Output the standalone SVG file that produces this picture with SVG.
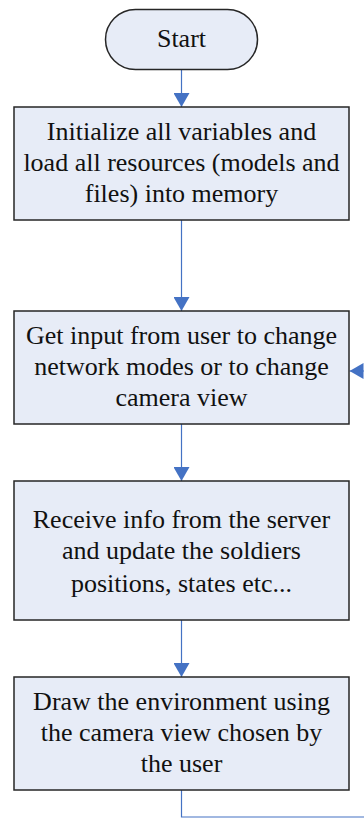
<svg xmlns="http://www.w3.org/2000/svg" width="364" height="819" viewBox="0 0 364 819">
<style>
.box{fill:#E7ECF7;stroke:#262626;stroke-width:1.5}
.t{font-family:'Liberation Serif','Times New Roman',Tinos,'DejaVu Serif',serif;font-size:26px;fill:#111;text-anchor:middle}
.c{fill:none;stroke:#4472C4;stroke-width:1.2}
</style>
<defs>
<marker id="ah" viewBox="0 0 14 16" refX="14" refY="8" markerWidth="14" markerHeight="16" markerUnits="userSpaceOnUse" orient="auto">
<path d="M0,0 L14,8 L0,16 Z" fill="#4472C4"/>
</marker>
</defs>
<rect width="364" height="819" fill="#fff"/>
<g id="connectors">
<path class="c" d="M181.5,70 V107" marker-end="url(#ah)"/>
<path class="c" d="M181.5,220 V311" marker-end="url(#ah)"/>
<path class="c" d="M181.5,424 V481" marker-end="url(#ah)"/>
<path class="c" d="M181.5,620 V677" marker-end="url(#ah)"/>
<path class="c" d="M181.5,790 V817 H372 V371 H349.5" marker-end="url(#ah)"/>
</g>
<g id="start">
<rect class="box" x="105.5" y="9.5" width="152" height="60" rx="30" ry="30"/>
<text class="t" x="181.5" y="47" font-family="Liberation Serif, serif">Start</text>
</g>
<g id="init">
<rect class="box" x="14" y="107" width="335" height="113"/>
<text class="t" x="181.5" y="140">Initialize all variables and</text>
<text class="t" x="181.5" y="171">load all resources (models and</text>
<text class="t" x="181.5" y="202">files) into memory</text>
</g>
<g id="input">
<rect class="box" x="14" y="311" width="335" height="113"/>
<text class="t" x="181.5" y="344">Get input from user to change</text>
<text class="t" x="181.5" y="375">network modes or to change</text>
<text class="t" x="181.5" y="406">camera view</text>
</g>
<g id="receive">
<rect class="box" x="14" y="481" width="335" height="139"/>
<text class="t" x="181.5" y="528">Receive info from the server</text>
<text class="t" x="181.5" y="559">and update the soldiers</text>
<text class="t" x="181.5" y="592">positions, states etc...</text>
</g>
<g id="draw">
<rect class="box" x="14" y="677" width="335" height="113"/>
<text class="t" x="181.5" y="710">Draw the environment using</text>
<text class="t" x="181.5" y="741">the camera view chosen by</text>
<text class="t" x="181.5" y="772">the user</text>
</g>
</svg>
